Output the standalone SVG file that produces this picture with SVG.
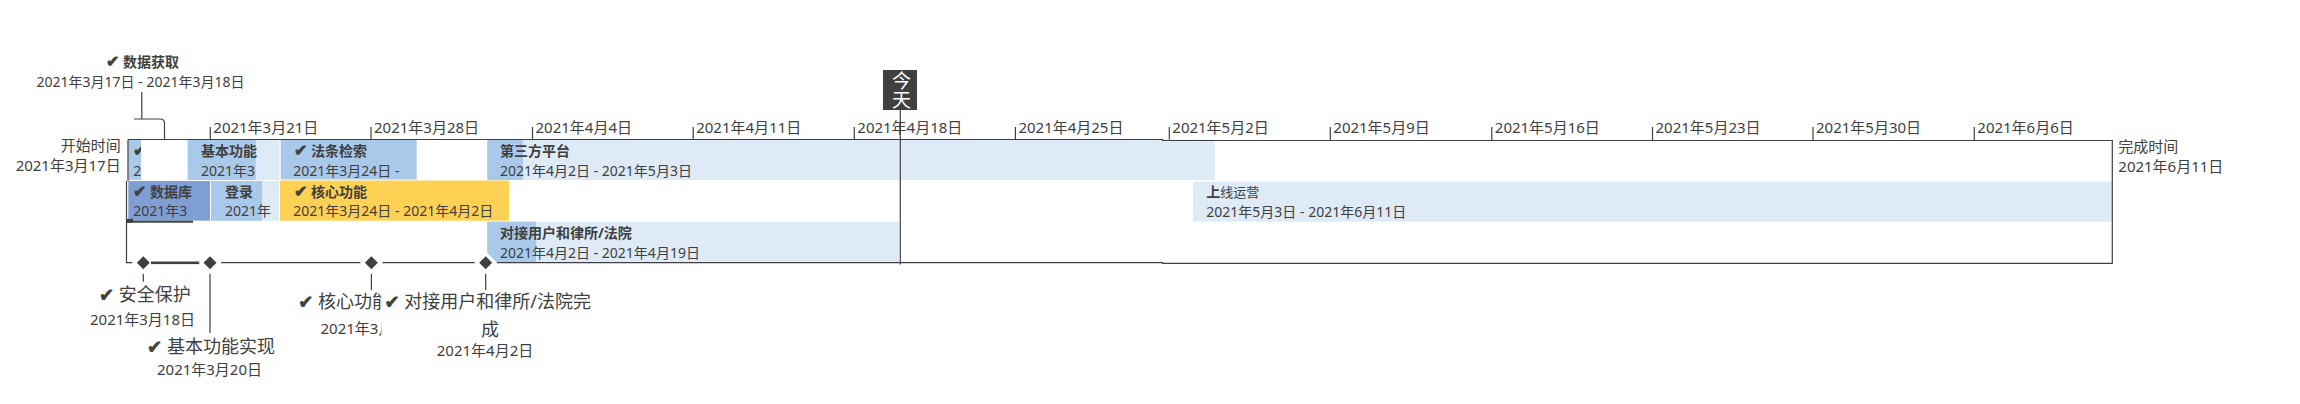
<svg xmlns="http://www.w3.org/2000/svg" width="2300" height="404" viewBox="0 0 2300 404">
<defs>
<style>
text{font-family:"Noto Sans","Noto Sans CJK SC",sans-serif;fill:#404040}
.ck{font-family:"DejaVu Sans",sans-serif;font-weight:bold;stroke:#404040;stroke-width:0.7}
.tt .ck{font-size:16px}
.tk{font-size:15px}
.lb{font-size:15px}
.tt{font-size:14px;font-weight:bold}
.td{font-size:14px}
.mt{font-size:18px}
.md{font-size:15px}
.line{stroke:#404040;stroke-width:1.2;fill:none}
.mid{fill:#a9c9eb}
.lite{fill:#deeaf6}
.dark{fill:#7f9ed4}
.yel{fill:#fdd154}
.dia{fill:#404040;stroke:#fff;stroke-width:7;paint-order:stroke}
</style>
<clipPath id="c0"><rect x="128" y="139" width="13" height="42"/></clipPath>
<clipPath id="c3"><rect x="280" y="280" width="101.5" height="70"/></clipPath>
</defs>

<g id="axis">
<path class="line" d="M210.3,127V139.5M371,127V139.5M532.5,127V139.5M693.2,127V139.5M854.3,127V139.5M1015.4,127V139.5M1169.3,127V140M1330.3,127V140M1491.8,127V140M1652.5,127V140M1813,127V140M1974.3,127V140"/>
<g class="tk">
<text x="213.3" y="133">2021年3月21日</text>
<text x="374" y="133">2021年3月28日</text>
<text x="535.5" y="133">2021年4月4日</text>
<text x="696.2" y="133">2021年4月11日</text>
<text x="857.3" y="133">2021年4月18日</text>
<text x="1018.4" y="133">2021年4月25日</text>
<text x="1172.3" y="133">2021年5月2日</text>
<text x="1333.3" y="133">2021年5月9日</text>
<text x="1494.8" y="133">2021年5月16日</text>
<text x="1655.5" y="133">2021年5月23日</text>
<text x="1816" y="133">2021年5月30日</text>
<text x="1977.3" y="133">2021年6月6日</text>
</g>
<text class="lb" x="120.7" y="151" text-anchor="end">开始时间</text>
<text class="lb" x="120.7" y="171" text-anchor="end">2021年3月17日</text>
<text class="lb" x="2118.3" y="152">完成时间</text>
<text class="lb" x="2118.3" y="172">2021年6月11日</text>
</g>

<g id="task-shujuhuoqu">
<rect class="mid" x="128.3" y="139.5" width="12.7" height="40.5"/>
<g clip-path="url(#c0)">
<text class="tt" x="133" y="155.5"><tspan class="ck">✔</tspan></text>
<text class="td" x="133.3" y="175.5">2</text>
</g>
</g>

<g id="task-jibengongneng">
<rect class="lite" x="187.7" y="139.5" width="91.6" height="40.5"/>
<rect class="mid" x="187.7" y="139.5" width="68" height="40.5"/>
<text class="tt" x="201" y="155.5">基本功能</text>
<text class="td" x="201" y="175.5">2021年3</text>
</g>

<g id="task-fatiaojiansuo">
<rect class="mid" x="280.7" y="139.5" width="136" height="40"/>
<text class="tt" x="294" y="155.5"><tspan class="ck">✔</tspan> 法条检索</text>
<text class="td" x="293.3" y="175.5">2021年3月24日 -</text>
</g>

<g id="task-disanfang">
<rect class="lite" x="487.3" y="139.5" width="727.7" height="40.5"/>
<rect class="mid" x="487.3" y="139.5" width="35.6" height="40.5"/>
<text class="tt" x="500" y="155.5">第三方平台</text>
<text class="td" x="500" y="175.5">2021年4月2日 - 2021年5月3日</text>
</g>

<g id="task-shujuku">
<rect class="dark" x="128.3" y="181" width="81.7" height="39.7"/>
<text class="tt" x="133" y="196.5"><tspan class="ck">✔</tspan> 数据库</text>
<text class="td" x="133.3" y="216">2021年3</text>
<rect x="126" y="220.7" width="67" height="2" fill="#404040"/>
<rect x="126" y="218.8" width="7" height="3.9" fill="#404040"/>
</g>

<g id="task-denglu">
<rect class="lite" x="211" y="181" width="68" height="39.7"/>
<rect class="mid" x="211" y="181" width="51" height="39.7"/>
<text class="tt" x="225" y="196.5">登录</text>
<text class="td" x="225" y="216">2021年</text>
</g>

<g id="task-hexingongneng">
<rect class="yel" x="280" y="180.5" width="229" height="40.2"/>
<text class="tt" x="294" y="196.5"><tspan class="ck">✔</tspan> 核心功能</text>
<text class="td" x="293.3" y="216">2021年3月24日 - 2021年4月2日</text>
</g>

<g id="task-shangxian">
<rect class="lite" x="1193" y="181.5" width="919" height="40.2"/>
<text x="1206.3" y="197.3" style="font-size:14px"><tspan font-weight="bold">上</tspan><tspan style="font-size:13px">线运营</tspan></text>
<text class="td" x="1206.3" y="216.5">2021年5月3日 - 2021年6月11日</text>
</g>

<g id="task-duijie">
<rect class="lite" x="487.3" y="221.7" width="411.7" height="40.5"/>
<rect class="mid" x="487.3" y="221.7" width="48.7" height="40.5"/>
<text class="tt" x="500" y="237.5">对接用户和律所/法院</text>
<text class="td" x="500" y="257.8">2021年4月2日 - 2021年4月19日</text>
</g>

<g id="frame">
<path class="line" d="M128,139.5H1162.5V140.5H2112.3V263.3H1162.5V262.7H126.5V181M128,139.5V181"/>
</g>

<g id="today">
<path class="line" d="M900.3,110V264.5"/>
<rect x="883" y="70" width="34" height="40" fill="#404040"/>
<text x="900" y="71" writing-mode="vertical-rl" style="font-size:19px;fill:#fff">今天</text>
</g>

<g id="connectors">
<path class="line" d="M141.8,92V119M134,119H160Q164.5,119 164.5,123.5V139.5"/>
<path class="line" d="M143.3,271.7V281.7M210,271.7V333M371.4,271.7V290M485.7,271.7V290"/>
</g>

<g id="label-shujuhuoqu">
<text class="tt" x="106" y="67"><tspan class="ck">✔</tspan> 数据获取</text>
<text class="td" x="140.5" y="87" text-anchor="middle">2021年3月17日 - 2021年3月18日</text>
</g>

<g id="milestone-1">
<path class="dia" d="M143.3,256.2L149.8,262.7L143.3,269.2L136.8,262.7Z"/>
<rect x="151" y="261.5" width="52.5" height="2.6" fill="#404040"/>
<text class="mt" x="144.8" y="301" text-anchor="middle"><tspan class="ck">✔</tspan> 安全保护</text>
<text class="md" x="142.5" y="325" text-anchor="middle">2021年3月18日</text>
</g>

<g id="milestone-2">
<path class="dia" d="M210,256.2L216.5,262.7L210,269.2L203.5,262.7Z"/>
<text class="mt" x="211" y="353" text-anchor="middle"><tspan class="ck">✔</tspan> 基本功能实现</text>
<text class="md" x="209.5" y="374.5" text-anchor="middle">2021年3月20日</text>
</g>

<g id="milestone-3">
<path class="dia" d="M371.4,256.2L377.9,262.7L371.4,269.2L364.9,262.7Z"/>
<g clip-path="url(#c3)">
<text class="mt" x="298.3" y="307.5"><tspan class="ck">✔</tspan> 核心功能</text>
<text class="md" x="320.5" y="333.5">2021年3月</text>
</g>
</g>

<g id="milestone-4">
<path class="dia" d="M485.7,256.2L492.2,262.7L485.7,269.2L479.2,262.7Z"/>
<text class="mt" x="487.7" y="307.5" text-anchor="middle"><tspan class="ck">✔</tspan> 对接用户和律所/法院完</text>
<text class="mt" x="490" y="336" text-anchor="middle">成</text>
<text class="md" x="485" y="355.5" text-anchor="middle">2021年4月2日</text>
</g>
</svg>
